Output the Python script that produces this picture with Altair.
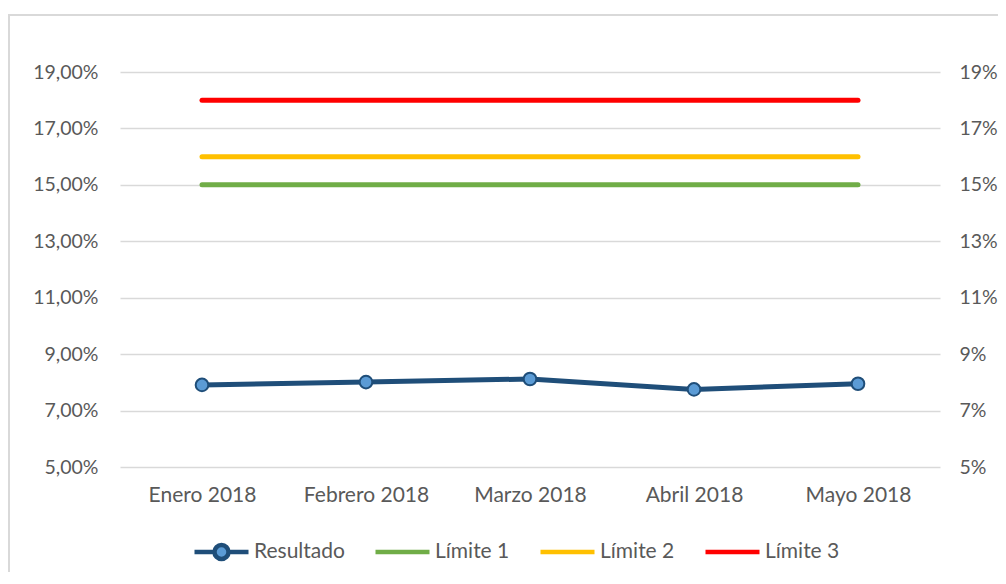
import altair as alt
import pandas as pd

months = ["Enero 2018", "Febrero 2018", "Marzo 2018", "Abril 2018", "Mayo 2018"]
resultado = [7.91, 8.01, 8.12, 7.75, 7.95]
limite1 = [15, 15, 15, 15, 15]
limite2 = [16, 16, 16, 16, 16]
limite3 = [18, 18, 18, 18, 18]
series_names = ["Resultado", "Límite 1", "Límite 2", "Límite 3"]
series_colors = ["#1F4E79", "#70AD47", "#FFC000", "#FF0000"]
y_ticks = [5, 7, 9, 11, 13, 15, 17, 19]

rows = []
for name, vals in zip(series_names, [resultado, limite1, limite2, limite3]):
    for i, (m, v) in enumerate(zip(months, vals)):
        rows.append({"serie": name, "mes": m, "valor": v, "orden": i})
df = pd.DataFrame(rows)

FONT = "Lato"
TXT = "#595959"
GRID = "#D9D9D9"
FS = 21
FSY = 19.5

x_scale = alt.Scale(type="point", padding=0.5)
x_axis = alt.Axis(labelFontSize=FS, labelFont=FONT, labelColor=TXT,
                  labelPadding=17, ticks=False, domain=False, grid=False,
                  labelAngle=0)
y_scale = alt.Scale(domain=[5, 19], nice=False, zero=False)

circle_path = ("M-1,0L-0.26,0M0.26,0L1,0"
               "M0.26,0A0.26,0.26,0,1,1,-0.26,0A0.26,0.26,0,1,1,0.26,0Z")

legend = alt.Legend(
    title=None, orient="none", direction="horizontal", columns=4,
    legendX=72, legendY=468, clipHeight=24,
    symbolSize=2916, symbolStrokeWidth=4.5, symbolOpacity=1,
    labelFont=FONT, labelFontSize=FS, labelColor=TXT, labelOffset=3,
    columnPadding=28,
)

stroke_scale = alt.Scale(domain=series_names, range=series_colors)
fill_scale = alt.Scale(domain=series_names,
                       range=["#5B9BD5", "#70AD47", "#FFC000", "#FF0000"])
shape_scale = alt.Scale(domain=series_names,
                        range=[circle_path, "stroke", "stroke", "stroke"])

base = alt.Chart(df)

lines = base.mark_line(strokeWidth=5, strokeCap="round").encode(
    x=alt.X("mes:N", sort=months, title=None, scale=x_scale, axis=x_axis),
    y=alt.Y("valor:Q", scale=y_scale, title=None,
            axis=alt.Axis(values=y_ticks, orient="left", labelFont=FONT,
                          labelFontSize=FSY, labelColor=TXT, labelPadding=22,
                          ticks=False, domain=False, grid=True, gridColor=GRID,
                          gridWidth=1.5,
                          labelExpr="replace(format(datum.value, '.2f'), '.', ',') + '%'")),
    stroke=alt.Stroke("serie:N", sort=series_names, scale=stroke_scale, legend=legend),
    detail="serie:N",
)

# legend carrier: draws nothing, only supplies the combined legend
legend_layer = base.transform_filter("false").mark_point(filled=True, opacity=1).encode(
    x=alt.X("mes:N", sort=months, title=None, scale=x_scale, axis=x_axis),
    y=alt.Y("valor:Q", scale=y_scale, axis=None),
    stroke=alt.Stroke("serie:N", sort=series_names, scale=stroke_scale, legend=legend),
    fill=alt.Fill("serie:N", sort=series_names, scale=fill_scale, legend=legend),
    shape=alt.Shape("serie:N", sort=series_names, scale=shape_scale, legend=legend),
)

points = base.transform_filter(alt.datum.serie == "Resultado").mark_point(
    filled=True, fill="#5B9BD5", stroke="#1F4E79", strokeWidth=2, size=160, opacity=1
).encode(
    x=alt.X("mes:N", sort=months, title=None, scale=x_scale, axis=x_axis),
    y=alt.Y("valor:Q", scale=y_scale,
            axis=alt.Axis(values=y_ticks, orient="right", labelFont=FONT,
                          labelFontSize=FSY, labelColor=TXT, labelPadding=19,
                          ticks=False, domain=False, grid=False, title=None,
                          labelExpr="format(datum.value, 'd') + '%'")),
)

frame_df = pd.DataFrame({"k": [0]})
frame_top = alt.Chart(frame_df).mark_rule(color=GRID, strokeWidth=2).encode(
    x=alt.value(-112), x2=alt.value(880), y=alt.value(-57))
frame_left = alt.Chart(frame_df).mark_rule(color=GRID, strokeWidth=2).encode(
    x=alt.value(-111), y=alt.value(-57), y2=alt.value(500))

chart = alt.layer(frame_top, frame_left, lines, points, legend_layer).resolve_scale(
    y="shared"
).resolve_axis(y="independent").properties(
    width=820, height=395,
    autosize=alt.AutoSizeParams(type="none"),
    padding={"left": 112, "top": 64, "right": 58, "bottom": 109},
).configure_view(stroke=None)

chart.save("out.html", embed_options={"renderer": "svg", "actions": False})
